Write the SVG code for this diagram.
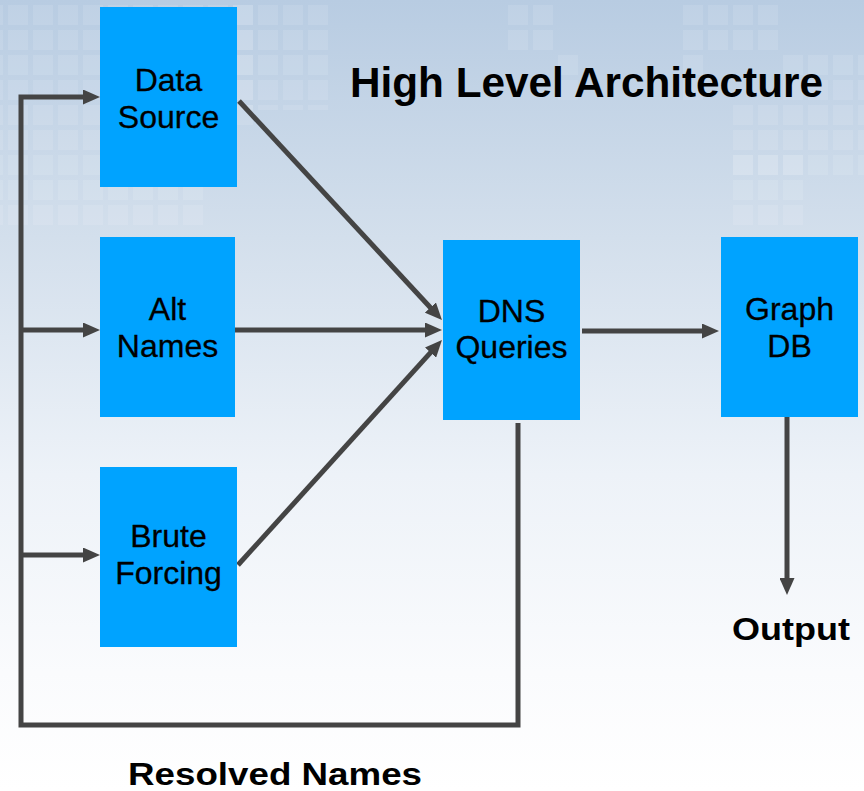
<svg xmlns="http://www.w3.org/2000/svg" width="864" height="791" viewBox="0 0 864 791">
<defs>
<linearGradient id="bg" x1="0" y1="0" x2="0" y2="1">
<stop offset="0" stop-color="#B8CCE2"/>
<stop offset="0.3" stop-color="#D3DFEC"/>
<stop offset="0.6" stop-color="#EDF2F8"/>
<stop offset="0.85" stop-color="#FAFBFD"/>
<stop offset="1" stop-color="#FFFFFF"/>
</linearGradient>
<pattern id="sq" patternUnits="userSpaceOnUse" x="8" y="5" width="25" height="25">
<rect x="0" y="0" width="20" height="20" fill="#FFFFFF" fill-opacity="0.1"/>
</pattern>
<marker id="ah" markerUnits="userSpaceOnUse" markerWidth="17" markerHeight="15" refX="5" refY="7.5" orient="auto">
<path d="M0,0 L17,7.5 L0,15 Z" fill="#444444"/>
</marker>
<style>
.box{fill:#00A3FF}
.lbl{font-family:"Liberation Sans",Arial,sans-serif;font-size:32px;fill:#000;text-anchor:middle;stroke:#000;stroke-width:0.3}
.bold{font-family:"Liberation Sans",Arial,sans-serif;font-weight:bold;fill:#000}
.ln{fill:none;stroke:#444444;stroke-width:5}
.arr{marker-end:url(#ah)}
</style>
</defs>
<rect width="864" height="791" fill="url(#bg)"/>
<g id="decor">
<rect x="0" y="0" width="258" height="130" fill="url(#sq)"/>
<rect x="0" y="130" width="208" height="100" fill="url(#sq)"/>
<rect x="230" y="0" width="100" height="110" fill="url(#sq)"/>
<rect x="505" y="0" width="50" height="55" fill="url(#sq)"/>
<rect x="680" y="0" width="100" height="55" fill="url(#sq)"/>
<rect x="555" y="55" width="25" height="45" fill="url(#sq)"/>
<rect x="680" y="55" width="25" height="45" fill="url(#sq)"/>
<rect x="780" y="55" width="84" height="45" fill="url(#sq)"/>
<rect x="730" y="105" width="134" height="70" fill="url(#sq)"/>
<rect x="730" y="155" width="75" height="75" fill="url(#sq)"/>
</g>
<g id="title"><text class="bold" x="350" y="97" font-size="42" textLength="473" lengthAdjust="spacingAndGlyphs">High Level Architecture</text></g>
<g id="connectors">
<path class="ln arr" d="M518,423 V725 H21 V97 H88"/>
<path class="ln arr" d="M21,330 H88"/>
<path class="ln arr" d="M21,555 H88"/>
<path class="ln arr" d="M239,101 L433.8,311.2"/>
<path class="ln arr" d="M235,330 L430,330"/>
<path class="ln arr" d="M238,565 L433.9,348.9"/>
<path class="ln arr" d="M582,331 L707,331"/>
<path class="ln arr" d="M787,417 L787,583"/>
</g>
<g id="data-source"><rect class="box" x="100" y="7" width="137" height="180"/><text class="lbl" x="168.5" y="91">Data</text><text class="lbl" x="168.5" y="128">Source</text></g>
<g id="alt-names"><rect class="box" x="100" y="237" width="135" height="180"/><text class="lbl" x="167.5" y="320">Alt</text><text class="lbl" x="167.5" y="357">Names</text></g>
<g id="brute-forcing"><rect class="box" x="100" y="467" width="137" height="180"/><text class="lbl" x="168.5" y="547">Brute</text><text class="lbl" x="168.5" y="584">Forcing</text></g>
<g id="dns-queries"><rect class="box" x="443" y="240" width="137" height="180"/><text class="lbl" x="511.5" y="322">DNS</text><text class="lbl" x="511.5" y="358">Queries</text></g>
<g id="graph-db"><rect class="box" x="721" y="237" width="137" height="180"/><text class="lbl" x="789.5" y="320">Graph</text><text class="lbl" x="789.5" y="357">DB</text></g>
<g id="output"><text class="bold" x="732" y="640" font-size="32" textLength="118" lengthAdjust="spacingAndGlyphs">Output</text></g>
<g id="resolved-names"><text class="bold" x="128" y="785" font-size="32" textLength="294" lengthAdjust="spacingAndGlyphs">Resolved Names</text></g>
</svg>
